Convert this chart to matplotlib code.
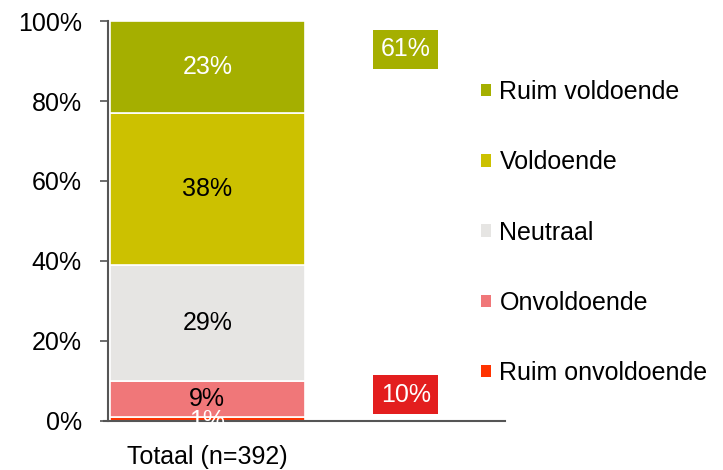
import numpy as np
import matplotlib.pyplot as plt
from matplotlib.patches import Patch

# data, bottom to top
categories = ['Ruim onvoldoende', 'Onvoldoende', 'Neutraal', 'Voldoende', 'Ruim voldoende']
values = [1, 9, 29, 38, 23]
colors = ['#FF3300', '#F07779', '#E6E5E3', '#CCC100', '#A5AF00']
label_colors = ['white', 'black', 'black', 'black', 'white']
group_label = 'Totaal (n=392)'

positive = values[3] + values[4]
negative = values[0] + values[1]

plt.rcParams['font.family'] = ['Liberation Sans', 'DejaVu Sans']
fs = 18

fig = plt.figure(figsize=(7.23, 4.70), dpi=100)
ax = fig.add_axes([0.1494, 0.1043, 0.5491, 0.8510])

bottom = 0
for cat, v, c, lc in zip(categories, values, colors, label_colors):
    ax.bar(0, v / 100, width=0.98, bottom=bottom / 100, color=c,
           edgecolor='white', linewidth=1.2)
    # tiny segment: label sits on the base line, mostly hidden like in the original
    y = (bottom + v / 2) / 100 if v >= 3 else bottom / 100
    ax.text(0, y, f'{v}%', ha='center', va='center', color=lc, fontsize=fs)
    bottom += v

# summary boxes
ax.text(1, 0.93, f'{positive}%', ha='center', va='center', color='white', fontsize=fs,
        bbox=dict(facecolor='#A5AF00', edgecolor='none', boxstyle='square,pad=0.3'))
ax.text(1, 0.065, f'{negative}%', ha='center', va='center', color='white', fontsize=fs,
        bbox=dict(facecolor='#E31E1E', edgecolor='none', boxstyle='square,pad=0.3'))

ax.set_xlim(-0.5, 1.5)
ax.set_ylim(0, 1)
ax.set_yticks(np.arange(0, 1.01, 0.2))
ax.set_yticklabels([f'{int(round(t * 100))}%' for t in np.arange(0, 1.01, 0.2)], fontsize=fs)
ax.set_xticks([0])
ax.set_xticklabels([group_label], fontsize=fs)
ax.tick_params(axis='x', length=0, pad=17)
ax.tick_params(axis='y', length=6, width=1.2, color='#555555', pad=13)
for s in ['top', 'right']:
    ax.spines[s].set_visible(False)
ax.spines['left'].set_color('#555555')
ax.spines['left'].set_linewidth(1.5)
ax.spines['bottom'].set_color('#555555')
ax.spines['bottom'].set_linewidth(1.5)
ax.spines['bottom'].set_bounds(-0.52, 1.5)
ax.spines['bottom'].set_clip_on(False)

handles = [Patch(facecolor=c, edgecolor='none') for c in colors][::-1]
fig.legend(handles, categories[::-1], loc='upper left', bbox_to_anchor=(0.651, 0.851),
           frameon=False, fontsize=fs, handlelength=0.4, handleheight=0.4,
           handletextpad=0.35, labelspacing=1.85, borderaxespad=0)

fig.savefig('out.png', dpi=100)
